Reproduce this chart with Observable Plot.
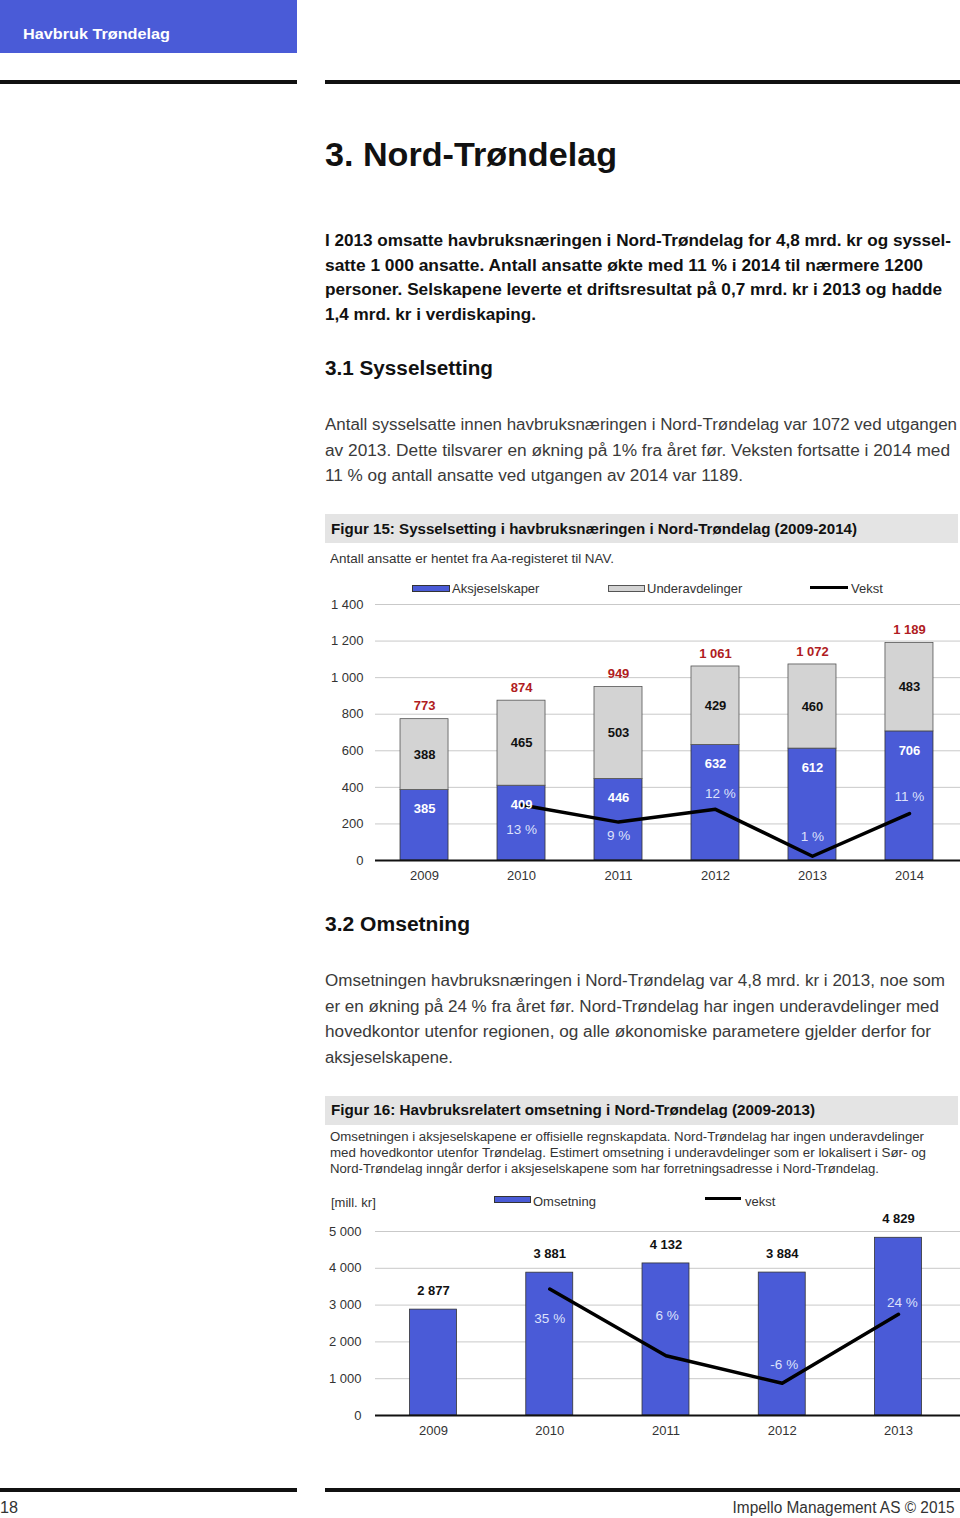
<!DOCTYPE html>
<html><head><meta charset="utf-8">
<script src="https://cdn.jsdelivr.net/npm/d3@7"></script>
<script src="https://cdn.jsdelivr.net/npm/@observablehq/plot@0.6"></script>
<style>
html,body{margin:0;padding:0;background:#fff;}
body{width:960px;height:1518px;position:relative;overflow:hidden;font-family:"Liberation Sans",Arial,sans-serif;}
.t{position:absolute;white-space:nowrap;transform-origin:0 50%;line-height:1;}
.box{position:absolute;}
.chart{position:absolute;}
.chart svg{display:block;overflow:visible;}
</style></head><body>
<script>
// ---------- data ----------
const years15 = ["2009", "2010", "2011", "2012", "2013", "2014"];
const aksjeselskaper = [385, 409, 446, 632, 612, 706];
const underavdelinger = [388, 465, 503, 429, 460, 483];
const vekstYears15 = ["2010", "2011", "2012", "2013", "2014"];
const vekst15 = [13, 9, 12, 1, 11];           // %
const yTicks15 = [0, 200, 400, 600, 800, 1000, 1200, 1400];
const series15 = ["Aksjeselskaper", "Underavdelinger"];

const years16 = ["2009", "2010", "2011", "2012", "2013"];
const omsetning = [2877, 3881, 4132, 3884, 4829]; // mill. kr
const vekstYears16 = ["2010", "2011", "2012", "2013"];
const vekst16 = [35, 6, -6, 24];              // %
const yTicks16 = [0, 1000, 2000, 3000, 4000, 5000];

// ---------- styles ----------
const BLUE = "#4a5bd7";
const GRAY = "#d3d3d3";
const RED = "#b01c22";
const PCT = "#dde1fb";
const FONT = '"Liberation Sans", Arial, sans-serif';
const fmt = d => d3.format(",")(d).replace(/,/g, " ");

// ---------- page helpers ----------
function rect(x, y, w, h, bg) {
  const d = document.createElement("div");
  d.className = "box";
  Object.assign(d.style, {left: x + "px", top: y + "px", width: w + "px", height: h + "px", background: bg});
  document.body.appendChild(d);
  return d;
}
function line(text, x, y, size, opts = {}) {
  const d = document.createElement("div");
  d.className = "t";
  d.textContent = text;
  Object.assign(d.style, {
    left: x + "px", top: (y - size / 2) + "px", fontSize: size + "px",
    fontWeight: opts.bold ? "bold" : "normal", color: opts.color || "#111"
  });
  if (opts.w) d.dataset.w = opts.w;
  if (opts.right) { d.style.left = "auto"; d.style.right = (960 - x) + "px"; d.style.transformOrigin = "100% 50%"; }
  document.body.appendChild(d);
  return d;
}

// header & rules
rect(0, 0, 297, 53, BLUE);
line("Havbruk Trøndelag", 23, 33, 15, {bold: true, color: "#fff", w: 147});
rect(0, 80, 297, 4, "#111");
rect(325, 80, 635, 4, "#111");

line("3. Nord-Trøndelag", 325, 154, 34, {bold: true, w: 292});

const p1 = [
  ["I 2013 omsatte havbruksnæringen i Nord-Trøndelag for 4,8 mrd. kr og syssel-", 626],
  ["satte 1 000 ansatte. Antall ansatte økte med 11 % i 2014 til nærmere 1200", 598],
  ["personer. Selskapene leverte et driftsresultat på 0,7 mrd. kr i 2013 og hadde", 617],
  ["1,4 mrd. kr i verdiskaping.", 211]
];
p1.forEach(([t, w], i) => line(t, 325, 241 + i * 24.7, 16, {bold: true, w}));

line("3.1 Sysselsetting", 325, 369, 19.5, {bold: true, w: 168});
const p2 = [
  ["Antall sysselsatte innen havbruksnæringen i Nord-Trøndelag var 1072 ved utgangen", 632],
  ["av 2013. Dette tilsvarer en økning på 1% fra året før. Veksten fortsatte i 2014 med", 625],
  ["11 % og antall ansatte ved utgangen av 2014 var 1189.", 418]
];
p2.forEach(([t, w], i) => line(t, 325, 425 + i * 25.7, 16, {color: "#3a3a3a", w}));

rect(325, 514, 633, 29, "#e4e4e4");
line("Figur 15: Sysselsetting i havbruksnæringen i Nord-Trøndelag (2009-2014)", 331, 529, 14.5, {bold: true, w: 526});
line("Antall ansatte er hentet fra Aa-registeret til NAV.", 330, 558, 13, {color: "#333", w: 284});

// legend fig 15
rect(412, 585, 36, 5, BLUE).style.border = "0.6px solid #333";
line("Aksjeselskaper", 452, 588, 13, {color: "#333"});
rect(608, 585, 35, 5, GRAY).style.border = "0.6px solid #555";
line("Underavdelinger", 647, 588, 13, {color: "#333"});
rect(810, 586, 38, 3, "#000");
line("Vekst", 851, 588, 13, {color: "#333"});

line("3.2 Omsetning", 325, 925, 19.5, {bold: true, w: 145});
const p3 = [
  ["Omsetningen havbruksnæringen i Nord-Trøndelag var 4,8 mrd. kr i 2013, noe som", 620],
  ["er en økning på 24 % fra året før. Nord-Trøndelag har ingen underavdelinger med", 614],
  ["hovedkontor utenfor regionen, og alle økonomiske parametere gjelder derfor for", 606],
  ["aksjeselskapene.", 128]
];
p3.forEach(([t, w], i) => line(t, 325, 981 + i * 25.7, 16, {color: "#3a3a3a", w}));

rect(325, 1096, 633, 29, "#e4e4e4");
line("Figur 16: Havbruksrelatert omsetning i Nord-Trøndelag (2009-2013)", 331, 1110, 14.5, {bold: true, w: 484});
const cap = [
  ["Omsetningen i aksjeselskapene er offisielle regnskapdata. Nord-Trøndelag har ingen underavdelinger", 594],
  ["med hovedkontor utenfor Trøndelag. Estimert omsetning i underavdelinger som er lokalisert i Sør- og", 596],
  ["Nord-Trøndelag inngår derfor i aksjeselskapene som har forretningsadresse i Nord-Trøndelag.", 549]
];
cap.forEach(([t, w], i) => line(t, 330, 1137 + i * 16, 12.5, {color: "#333", w}));

line("[mill. kr]", 331, 1202, 13, {color: "#333"});
rect(494, 1196, 35, 5, BLUE).style.border = "0.6px solid #333";
line("Omsetning", 533, 1201, 13, {color: "#333"});
rect(705, 1197, 36, 3, "#000");
line("vekst", 745, 1201, 13, {color: "#333"});

// footer
rect(0, 1488, 297, 4, "#111");
rect(325, 1488, 635, 4, "#111");
line("18", 0, 1508, 16, {color: "#333", w: 18});
line("Impello Management AS © 2015", 955, 1508, 16, {color: "#333", w: 222, right: true});

// ---------- Figure 15 ----------
const rows15 = years15.flatMap((y, i) => [
  {year: y, series: series15[0], value: aksjeselskaper[i]},
  {year: y, series: series15[1], value: underavdelinger[i]}
]);
const tot15 = years15.map((y, i) => ({year: y, aks: aksjeselskaper[i], und: underavdelinger[i]}));
const v15 = vekstYears15.map((y, i) => ({year: y, v: vekst15[i]}));
// secondary axis: 0–60 % spans the same height as 0–1 400
const sec15 = v => v / 60 * 1400;
const pctDy15 = {"2010": 25, "2011": 14, "2012": -16, "2013": -20, "2014": -17};
const pctDx15 = {"2010": 0, "2011": 0, "2012": 5, "2013": 0, "2014": 0};

const chart15 = Plot.plot({
  width: 640, height: 300,
  marginTop: 12, marginBottom: 32, marginLeft: 55, marginRight: 0,
  style: {fontFamily: FONT, fontSize: "13px", color: "#333", background: "transparent"},
  x: {type: "band", domain: years15, range: [55, 638], paddingInner: 0.505, paddingOuter: 0.258, round: false},
  y: {domain: [0, 1400]},
  color: {domain: series15, range: [BLUE, GRAY]},
  marks: [
    Plot.ruleY(yTicks15.filter(d => d > 0), {stroke: "#c9c9c9", strokeWidth: 1}),
    Plot.axisY({ticks: yTicks15, tickSize: 0, tickPadding: 12, tickFormat: fmt, label: null, fontSize: 13}),
    Plot.axisX({tickSize: 0, tickPadding: 10, label: null, fontSize: 13}),
    Plot.barY(rows15, {x: "year", y: "value", fill: "series", stroke: d => d.series === series15[0] ? "#333" : "#555", strokeWidth: 0.8}),
    Plot.ruleY([0], {stroke: "#111", strokeWidth: 2}),
    Plot.line(v15, {x: "year", y: d => sec15(d.v), stroke: "#000", strokeWidth: 3.5}),
    Plot.text(tot15, {x: "year", y: "aks", text: d => fmt(d.aks), dy: 19, fill: "#fff", fontWeight: "bold", fontSize: 13}),
    Plot.text(tot15, {x: "year", y: d => d.aks + d.und / 2, text: d => fmt(d.und), fill: "#111", fontWeight: "bold", fontSize: 13}),
    Plot.text(tot15, {x: "year", y: d => d.aks + d.und, text: d => fmt(d.aks + d.und), dy: -13, fill: RED, fontWeight: "bold", fontSize: 13}),
    ...v15.map(d => Plot.text([d], {x: "year", y: e => sec15(e.v), text: e => e.v + " %", dy: pctDy15[d.year], dx: pctDx15[d.year], fill: PCT, fontSize: 13.5}))
  ]
});
const c15 = document.createElement("div");
c15.className = "chart";
Object.assign(c15.style, {left: "320px", top: "592px"});
c15.appendChild(chart15);
document.body.appendChild(c15);

// ---------- Figure 16 ----------
const rows16 = years16.map((y, i) => ({year: y, value: omsetning[i]}));
const v16 = vekstYears16.map((y, i) => ({year: y, v: vekst16[i]}));
// secondary axis: -20 % … 60 % spans the same height as 0 … 5 000
const sec16 = v => (v + 20) / 80 * 5000;
const pctDy16 = {"2010": 30, "2011": -40, "2012": -19, "2013": -12};
const pctDx16 = {"2010": 0, "2011": 1, "2012": 2, "2013": 4};

const chart16 = Plot.plot({
  width: 640, height: 240,
  marginTop: 23, marginBottom: 33, marginLeft: 55, marginRight: 0,
  style: {fontFamily: FONT, fontSize: "13px", color: "#333", background: "transparent"},
  x: {type: "band", domain: years16, range: [55, 636], paddingInner: 0.596, paddingOuter: 0.297, round: false},
  y: {domain: [0, 5000]},
  marks: [
    Plot.ruleY(yTicks16.filter(d => d > 0), {stroke: "#c9c9c9", strokeWidth: 1}),
    Plot.axisY({ticks: yTicks16, tickSize: 0, tickPadding: 14, tickFormat: fmt, label: null, fontSize: 13}),
    Plot.axisX({tickSize: 0, tickPadding: 10, label: null, fontSize: 13}),
    Plot.barY(rows16, {x: "year", y: "value", fill: BLUE, stroke: "#333", strokeWidth: 0.8}),
    Plot.ruleY([0], {stroke: "#111", strokeWidth: 2}),
    Plot.line(v16, {x: "year", y: d => sec16(d.v), stroke: "#000", strokeWidth: 3.5}),
    Plot.text(rows16, {x: "year", y: "value", text: d => fmt(d.value), dy: -19, fill: "#111", fontWeight: "bold", fontSize: 13}),
    ...v16.map(d => Plot.text([d], {x: "year", y: e => sec16(e.v), text: e => e.v + " %", dy: pctDy16[d.year], dx: pctDx16[d.year], fill: PCT, fontSize: 13.5}))
  ]
});
const c16 = document.createElement("div");
c16.className = "chart";
Object.assign(c16.style, {left: "320px", top: "1208px"});
c16.appendChild(chart16);
document.body.appendChild(c16);

// fit text line widths to the reference
document.querySelectorAll("[data-w]").forEach(el => {
  const w = el.getBoundingClientRect().width;
  el.style.transform = `scaleX(${(+el.dataset.w) / w})`;
});
</script>
</body></html>
